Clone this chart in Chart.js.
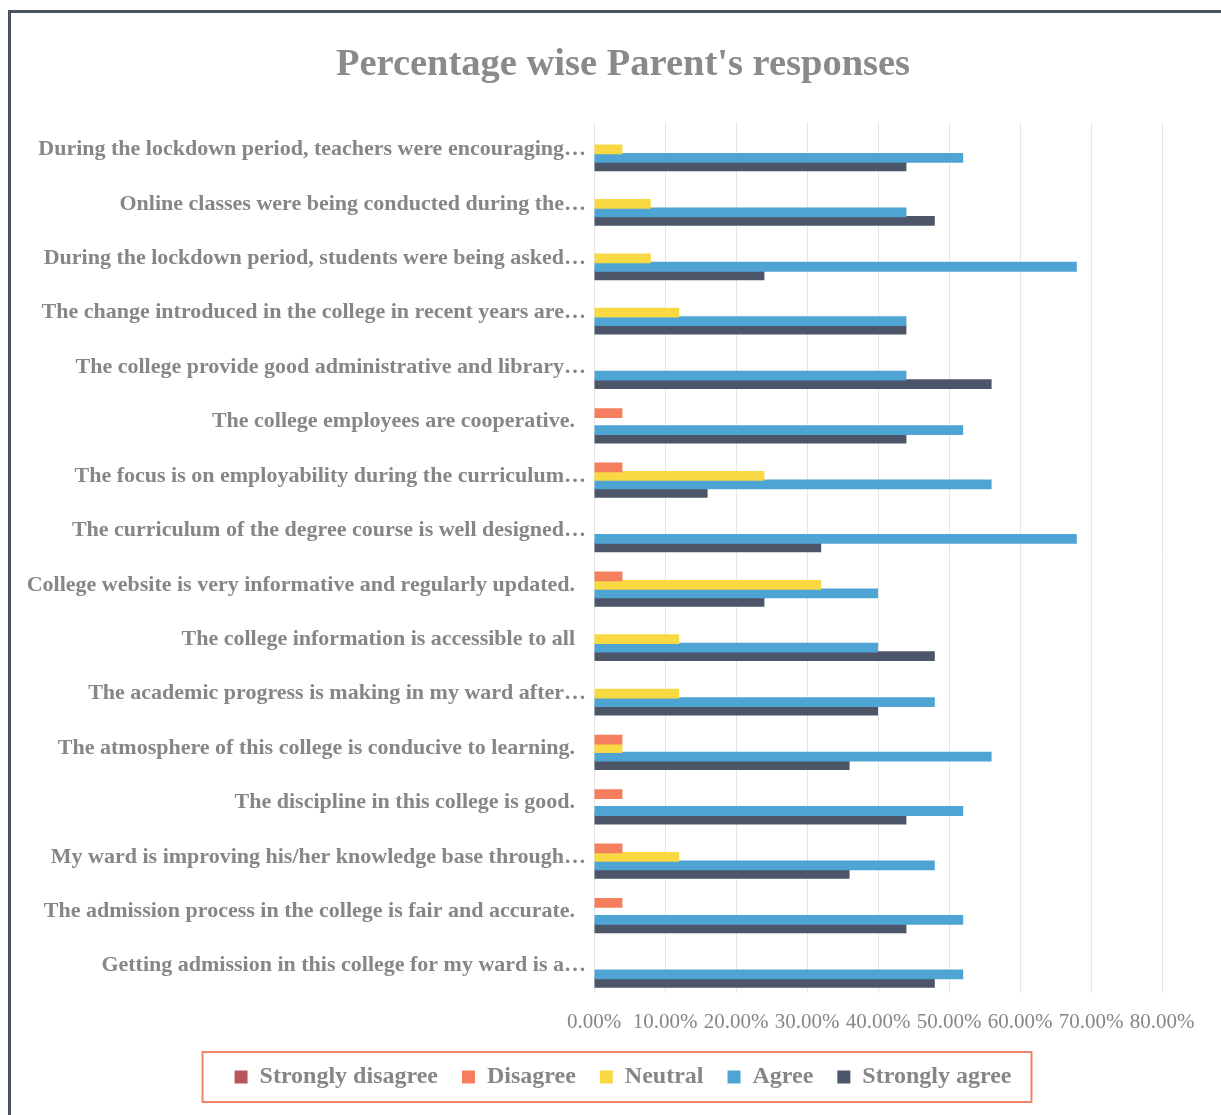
<!DOCTYPE html>
<html>
<head>
<meta charset="utf-8">
<script src="https://cdn.jsdelivr.net/npm/chart.js@4.4.1/dist/chart.umd.min.js"></script>
<style>
  body { margin: 0; background: #fff; }
  #wrap { position: relative; width: 1221px; height: 1115px; overflow: hidden; }
  #frame { position: absolute; left: 8px; top: 10px; width: 1300px; height: 1200px;
           border-top: 3px solid #4b5262; border-left: 3px solid #4b5262; }
  canvas { position: absolute; left: 0; top: 0; }
</style>
</head>
<body>
<div id="wrap">
  <div id="frame"></div>
  <canvas id="parentChart" width="1221" height="1115"></canvas>
</div>
<script>
const questions = [
  'During the lockdown period, teachers were encouraging…',
  'Online classes were being conducted during the…',
  'During the lockdown period, students were being asked…',
  'The change introduced in the college in recent years are…',
  'The college provide good administrative and library…',
  'The college employees are cooperative.',
  'The focus is on employability during the curriculum…',
  'The curriculum of the degree course is well designed…',
  'College website is very informative and regularly updated.',
  'The college information is accessible to all',
  'The academic progress is making in my ward after…',
  'The atmosphere of this college is conducive to learning.',
  'The discipline in this college is good.',
  'My ward is improving his/her knowledge base through…',
  'The admission process in the college is fair and accurate.',
  'Getting admission in this college for my ward is a…'
];

// percentages, same order as questions (top to bottom)
const stronglyDisagree = [0, 0, 0, 0, 0, 0, 0, 0, 0, 0, 0, 0, 0, 0, 0, 0];
const disagree = [0, 0, 0, 0, 0, 4, 4, 0, 4, 0, 0, 4, 4, 4, 4, 0];
const neutral = [4, 8, 8, 12, 0, 0, 24, 0, 32, 12, 12, 4, 0, 12, 0, 0];
const agree = [52, 44, 68, 44, 44, 52, 56, 68, 40, 40, 48, 56, 52, 48, 52, 52];
const stronglyAgree = [44, 48, 24, 44, 56, 44, 16, 32, 24, 48, 40, 36, 44, 36, 44, 48];

const xTicks = [0, 10, 20, 30, 40, 50, 60, 70, 80];

const grey = '#868686';
const serif = "'Liberation Serif', 'Times New Roman', serif";

// orange box around the legend + let the long y labels spill left of the padding
const legendBox = {
  id: 'legendBox',
  beforeDraw(chart) {
    chart.scales.y.left = 0;
  },
  afterDraw(chart) {
    const boxes = chart.legend.legendHitBoxes;
    if (!boxes || !boxes.length) return;
    const left = Math.min(...boxes.map(b => b.left));
    const right = Math.max(...boxes.map(b => b.left + b.width));
    const mid = boxes[0].top + boxes[0].height / 2;
    const ctx = chart.ctx;
    ctx.save();
    ctx.strokeStyle = '#f08468';
    ctx.lineWidth = 2;
    ctx.strokeRect(left - 32, mid - 25, right - left + 52, 50);
    ctx.restore();
  }
};

const ctx = document.getElementById('parentChart');

new Chart(ctx, {
  type: 'bar',
  data: {
    labels: questions,
    datasets: [
      { label: 'Strongly disagree', data: stronglyDisagree, backgroundColor: '#b9565d' },
      { label: 'Disagree', data: disagree, backgroundColor: '#f57e5f' },
      { label: 'Neutral', data: neutral, backgroundColor: '#f8d944' },
      { label: 'Agree', data: agree, backgroundColor: '#4ea4d3' },
      { label: 'Strongly agree', data: stronglyAgree, backgroundColor: '#4d5669' }
    ]
  },
  options: {
    indexAxis: 'y',
    responsive: false,
    animation: false,
    borderWidth: 0,
    categoryPercentage: 0.78,
    barPercentage: 1.15,
    layout: { padding: { left: 84, right: 59, top: 0, bottom: 16 } },
    scales: {
      x: {
        min: 0,
        max: 80,
        afterBuildTicks: (scale) => { scale.ticks = xTicks.map(v => ({ value: v })); },
        afterFit: (scale) => { scale.height = 48; },
        ticks: {
          color: grey,
          padding: 17,
          minRotation: 0,
          maxRotation: 0,
          autoSkip: false,
          font: { family: serif, size: 21 },
          callback: (v) => Number(v).toFixed(2) + '%'
        },
        grid: { color: '#e6e6e6', drawTicks: false },
        border: { display: false }
      },
      y: {
        afterFit: (scale) => { scale.width = 594 - 84; },
        ticks: {
          color: grey,
          padding: 0,
          font: { family: serif, size: 22, weight: 'bold' },
          callback: function (v) {
            const lbl = this.getLabelForValue(v);
            return lbl.endsWith('…') ? lbl : lbl + '  ';
          }
        },
        grid: { display: false },
        border: { display: false }
      }
    },
    plugins: {
      title: {
        display: true,
        text: "Percentage wise Parent's responses",
        color: '#8a8a8a',
        font: { family: serif, size: 38.5, weight: 'bold' },
        padding: { top: 42, bottom: 34 }
      },
      legend: {
        position: 'bottom',
        labels: {
          color: grey,
          boxWidth: 13,
          boxHeight: 13,
          padding: 24,
          font: { family: serif, size: 24, weight: 'bold' }
        }
      },
      tooltip: { enabled: false }
    }
  },
  plugins: [legendBox]
});
</script>
</body>
</html>
